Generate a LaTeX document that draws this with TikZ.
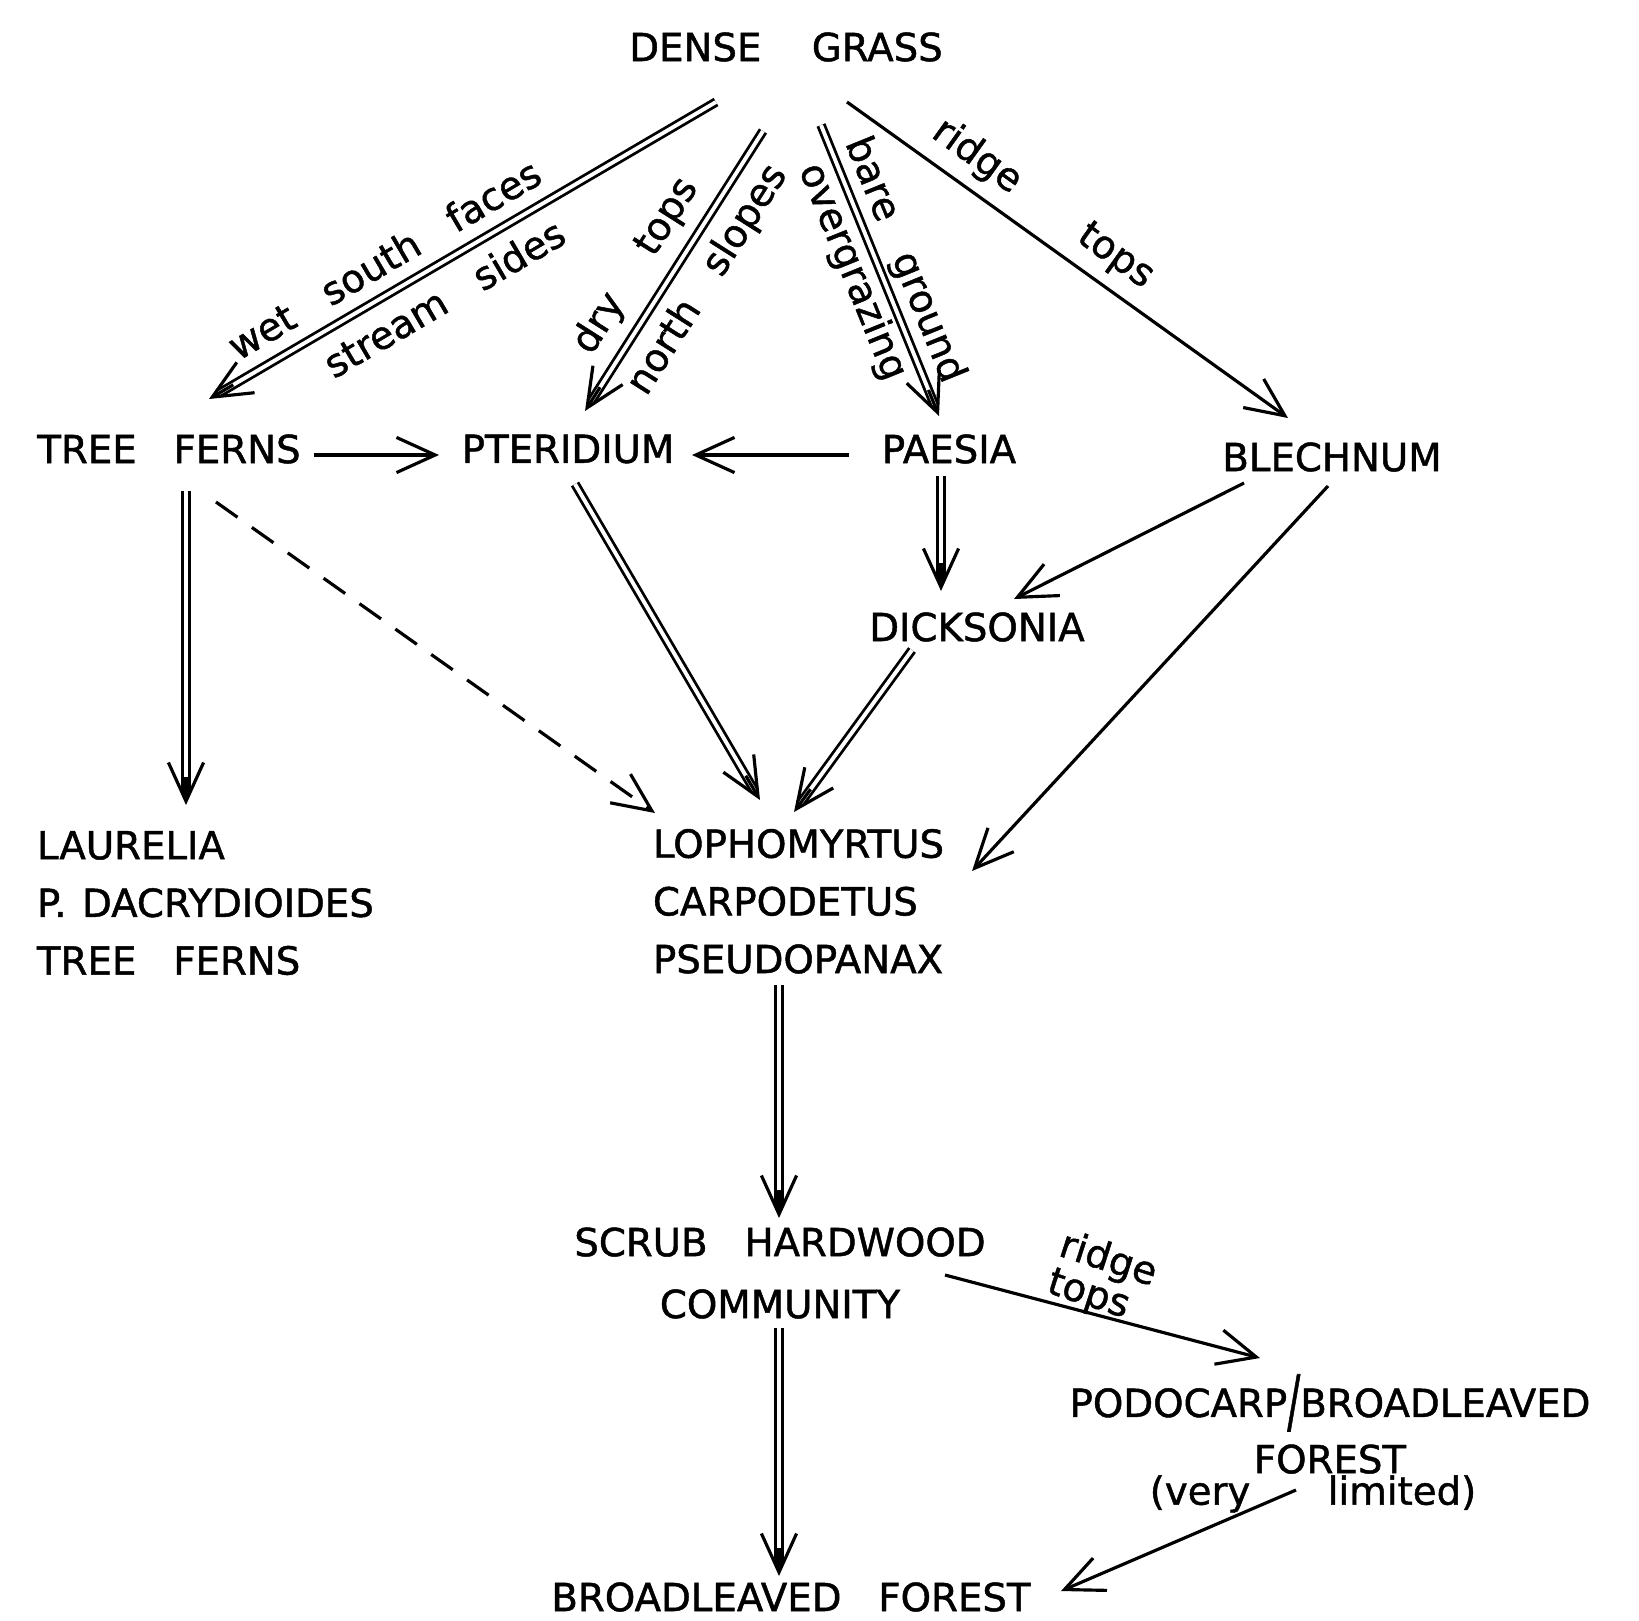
\documentclass[tikz,border=0pt]{standalone}
\usepackage{fontspec}
\setmainfont{DejaVu Sans}[WordSpace=3, FakeBold=1.2]
\usepackage{graphicx}
\usetikzlibrary{arrows.meta,calc}
\tikzset{
  txt/.style={inner sep=0pt, outer sep=0pt, font=\fontsize{11}{13}\selectfont},
  lbl/.style={inner sep=0pt, outer sep=0pt, font=\fontsize{11}{13}\selectfont},
  blk/.style={align=left, font=\fontsize{11}{16.4}\selectfont},
  conn/.style={line width=0.9pt, -{Straight Barb[length=11pt,width=10pt]}},
  dashconn/.style={conn, dash pattern=on 7.5pt off 5pt},
  dbl/.style={line width=0.8pt, double, double distance=1.1pt, shorten >=3pt},
  tipl/.style={line width=0.9pt, -{Straight Barb[length=11pt,width=10pt]}},
}
\newcommand\dblarrow[2]{%
  \draw[dbl] #1 -- #2 coordinate[pos=0] (dstart) coordinate[pos=1] (dend);
  \draw[tipl] ($(dend)!8pt!(dstart)$) -- (dend);}
\begin{document}
\begin{tikzpicture}[x=0.01cm,y=-0.01cm]
\useasboundingbox (0,0) rectangle (1639,1620);
% nodes
\node[txt] (dg) at (786,47) {DENSE\hspace{0.35em} GRASS};
\node[txt] (tf) at (169,449) {TREE FERNS};
\node[txt] (pt) at (568,449) {PTERIDIUM};
\node[txt] (pa) at (949,449) {PAESIA};
\node[txt] (bl) at (1332,457) {BLECHNUM};
\node[txt] (di) at (977,627) {DICKSONIA};
\node[txt, blk, anchor=north west] (la) at (37,831) {LAURELIA\\P.\hspace{0.4em}DACRYDIOIDES\\TREE FERNS};
\node[txt, blk, anchor=north west] (lo) at (653,829) {LOPHOMYRTUS\\CARPODETUS\\PSEUDOPANAX};
\node[txt, align=center, font=\fontsize{11}{17.6}\selectfont] (sc) at (780,1273) {SCRUB HARDWOOD\\COMMUNITY};
\node[txt, align=center, font=\fontsize{11}{16}\selectfont] (pf) at (1330,1424) {PODOCARP\raisebox{-0.21em}{\scalebox{1}[1.8]{/}}BROADLEAVED\\FOREST};
\node[txt] (vl) at (1313,1494) {(very\hspace{22pt}limited)};
\node[txt] (bf) at (791,1597) {BROADLEAVED FOREST};
% labels
\node[lbl, rotate=30.4] (l1) at (384,259) {wet south faces};
\node[lbl, rotate=30.4] (l2) at (444,298) {stream sides};
\node[lbl, rotate=57.6] (l3) at (636,266) {dry\hspace{15pt}tops};
\node[lbl, rotate=57.6] (l4) at (708,280) {north slopes};
\node[lbl, rotate=-67.9] (l5) at (904,260) {bare ground};
\node[lbl, rotate=-67.9] (l6) at (852,272) {overgrazing};
\node[lbl, rotate=-35.6] (l7) at (1043,204) {ridge\hspace{22.5pt}tops};
\node[lbl, rotate=-18, align=left, font=\fontsize{11}{8.5}\selectfont] (l8) at (1102,1279) {ridge\\tops};
% double connectors
\dblarrow{([shift={(-70,55)}]dg.center)}{([shift={(40,-50)}]tf.center)}
\dblarrow{([shift={(-23,84)}]dg.center)}{([shift={(17,-38)}]pt.center)}
\dblarrow{([shift={(35,78)}]dg.center)}{([shift={(-10,-33)}]pa.center)}
\dblarrow{([shift={(-8,27)}]pa.center)}{([shift={(-36,-36)}]di.center)}
\dblarrow{([shift={(7,35)}]pt.center)}{([shift={(107,-29)}]lo.north west)}
\dblarrow{([shift={(-65,23)}]di.center)}{([shift={(141,-17)}]lo.north west)}
\dblarrow{([shift={(17,42)}]tf.center)}{([shift={(149,-26)}]la.north west)}
\dblarrow{([shift={(126,156)}]lo.north west)}{([shift={(-1,-55)}]sc.center)}
\dblarrow{([shift={(-1,55)}]sc.center)}{([shift={(-12,-21)}]bf.center)}
% single connectors
\draw[conn] ([shift={(61,55)}]dg.center) -- ([shift={(-44,-39)}]bl.center);
\draw[conn] ([shift={(145,6)}]tf.center) -- ([shift={(-129,6)}]pt.center);
\draw[conn] ([shift={(-100,6)}]pa.center) -- ([shift={(124,6)}]pt.center);
\draw[conn] ([shift={(-88,26)}]bl.center) -- ([shift={(37,-28)}]di.center);
\draw[conn] ([shift={(-4,29)}]bl.center) -- ([shift={(319,42)}]lo.north west);
\draw[dashconn] ([shift={(47,53)}]tf.center) -- ([shift={(2,-16)}]lo.north west);
\draw[conn] ([shift={(165,2)}]sc.center) -- ([shift={(-70,-66)}]pf.center);
\draw[conn] ([shift={(-17,-4)}]vl.center) -- ([shift={(270,-6)}]bf.center);
\end{tikzpicture}
\end{document}
